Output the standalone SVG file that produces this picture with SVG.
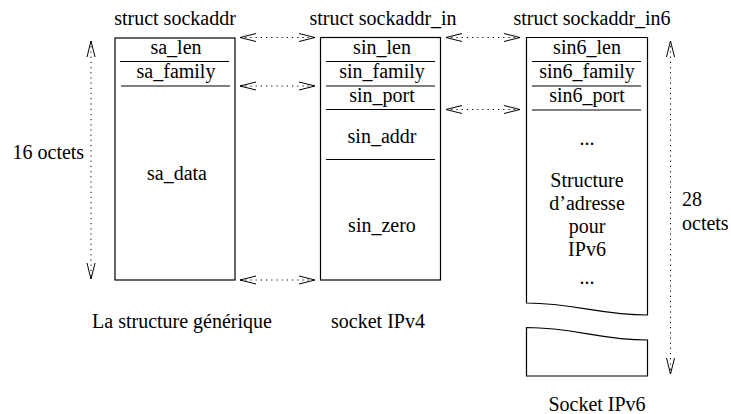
<svg xmlns="http://www.w3.org/2000/svg" width="731" height="414" viewBox="0 0 731 414">
<defs>
<style>
text{font-family:"Liberation Serif","Times New Roman",serif;font-size:20px;fill:#000}
.c{text-anchor:middle}
.box{fill:#fff;stroke:#000;stroke-width:1.2}
.sep{stroke:#000;stroke-width:1.2}
.arr{stroke:#000;stroke-width:1;fill:none;stroke-dasharray:1.2 4}
</style>
<marker id="h" markerUnits="userSpaceOnUse" markerWidth="20" markerHeight="12" refX="16" refY="5" orient="auto-start-reverse" viewBox="0 0 20 12">
<path d="M0,1 L16,5 L0,9" fill="none" stroke="#000" stroke-width="1"/>
</marker>
</defs>
<g id="titles">
<text class="c" x="175" y="25">struct sockaddr</text>
<text class="c" x="383" y="25">struct sockaddr_in</text>
<text class="c" x="592" y="25">struct sockaddr_in6</text>
</g>
<g id="sockaddr">
<rect class="box" x="115" y="38" width="120" height="242"/>
<line class="sep" x1="120" y1="61.5" x2="229" y2="61.5"/>
<line class="sep" x1="121" y1="86" x2="230" y2="86"/>
<text class="c" x="176" y="54">sa_len</text>
<text class="c" x="176" y="78">sa_family</text>
<text class="c" x="177" y="180">sa_data</text>
</g>
<g id="sockaddr_in">
<rect class="box" x="320.5" y="37.5" width="120" height="242.5"/>
<line class="sep" x1="326" y1="61.5" x2="435" y2="61.5"/>
<line class="sep" x1="326" y1="86" x2="435" y2="86"/>
<line class="sep" x1="326" y1="109.5" x2="435" y2="109.5"/>
<line class="sep" x1="326" y1="159.5" x2="435" y2="159.5"/>
<text class="c" x="382" y="54">sin_len</text>
<text class="c" x="382" y="78">sin_family</text>
<text class="c" x="382" y="102">sin_port</text>
<text class="c" x="382" y="143">sin_addr</text>
<text class="c" x="382" y="232">sin_zero</text>
</g>
<g id="sockaddr_in6">
<path class="box" d="M526.5,37.5 H647.5 V315 C600,315 575,303 526.5,303 Z"/>
<path class="box" d="M526.5,327.5 C575,327.5 600,340 647.5,340 V376 H526.5 Z"/>
<line class="sep" x1="532" y1="61.5" x2="641" y2="61.5"/>
<line class="sep" x1="532" y1="86" x2="641" y2="86"/>
<line class="sep" x1="532" y1="110" x2="641" y2="110"/>
<text class="c" x="587" y="54">sin6_len</text>
<text class="c" x="587" y="78">sin6_family</text>
<text class="c" x="587" y="102">sin6_port</text>
<text class="c" x="587" y="145">...</text>
<text class="c" x="587" y="187">Structure</text>
<text class="c" x="587" y="210">d’adresse</text>
<text class="c" x="587" y="233">pour</text>
<text class="c" x="587" y="256">IPv6</text>
<text class="c" x="587" y="284">...</text>
</g>
<g id="connectors">
<line class="arr" x1="240" y1="37.5" x2="315" y2="37.5" marker-start="url(#h)" marker-end="url(#h)"/>
<line class="arr" x1="240" y1="86" x2="315" y2="86" marker-start="url(#h)" marker-end="url(#h)"/>
<line class="arr" x1="240" y1="280" x2="315" y2="280" marker-start="url(#h)" marker-end="url(#h)"/>
<line class="arr" x1="446" y1="37.5" x2="520" y2="37.5" marker-start="url(#h)" marker-end="url(#h)"/>
<line class="arr" x1="446" y1="109.5" x2="520" y2="109.5" marker-start="url(#h)" marker-end="url(#h)"/>
<line class="arr" x1="91" y1="41" x2="91" y2="279" marker-start="url(#h)" marker-end="url(#h)"/>
<line class="arr" x1="670.5" y1="41" x2="670.5" y2="374" marker-start="url(#h)" marker-end="url(#h)"/>
</g>
<g id="labels">
<text x="12.5" y="159">16 octets</text>
<text x="682" y="206">28</text>
<text x="682" y="230">octets</text>
<text class="c" x="182" y="328">La structure générique</text>
<text class="c" x="378" y="328">socket IPv4</text>
<text class="c" x="597" y="411">Socket IPv6</text>
</g>
</svg>
